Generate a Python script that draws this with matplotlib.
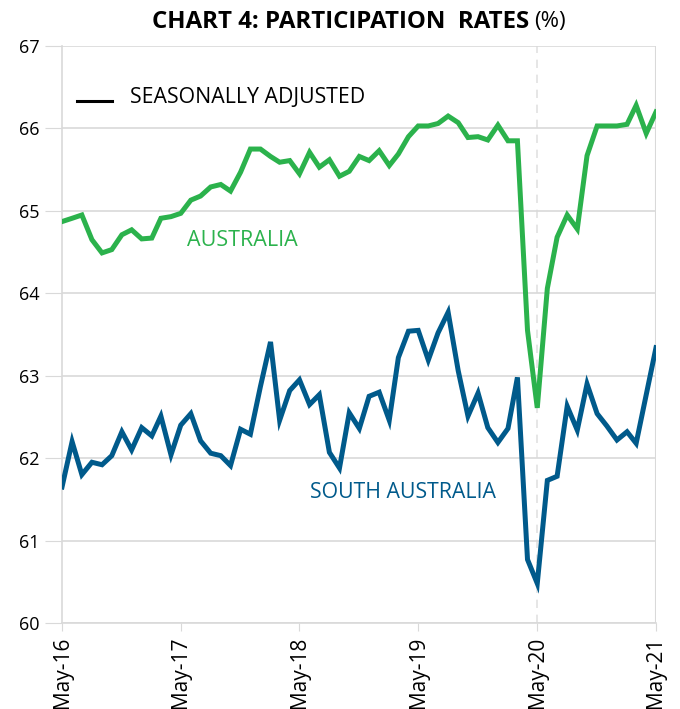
import matplotlib

matplotlib.use("Agg")
import matplotlib.pyplot as plt
import pandas as pd

# monthly, May-16 to May-21
months = pd.date_range("2016-05-01", periods=61, freq="MS")

australia = [
    64.87, 64.91, 64.95, 64.65, 64.49, 64.53, 64.71, 64.77, 64.66, 64.67,
    64.91, 64.93, 64.97, 65.13, 65.18, 65.29, 65.32, 65.24, 65.47, 65.75,
    65.75, 65.66, 65.59, 65.61, 65.45, 65.71, 65.53, 65.62, 65.42, 65.48,
    65.66, 65.61, 65.73, 65.55, 65.69, 65.90, 66.03, 66.03, 66.06, 66.15,
    66.07, 65.89, 65.90, 65.86, 66.04, 65.85, 65.85, 63.55, 62.61, 64.06,
    64.68, 64.95, 64.78, 65.67, 66.03, 66.03, 66.03, 66.05, 66.28, 65.94,
    66.20,
]
south_australia = [
    61.65, 62.20, 61.80, 61.95, 61.92, 62.03, 62.32, 62.10, 62.37, 62.27,
    62.51, 62.04, 62.40, 62.54, 62.21, 62.06, 62.03, 61.91, 62.35, 62.29,
    62.87, 63.41, 62.46, 62.82, 62.95, 62.65, 62.77, 62.07, 61.88, 62.55,
    62.36, 62.75, 62.80, 62.46, 63.22, 63.54, 63.55, 63.19, 63.52, 63.77,
    63.06, 62.51, 62.79, 62.37, 62.19, 62.36, 62.98, 60.77, 60.48, 61.73,
    61.78, 62.63, 62.34, 62.90, 62.54, 62.39, 62.22, 62.32, 62.18, 62.77,
    63.34,
]
tick_dates = pd.date_range("2016-05-01", periods=6, freq="12MS")
tick_labels = ["May-16", "May-17", "May-18", "May-19", "May-20", "May-21"]

GREEN = "#2bb24c"
BLUE = "#005a8b"
GRID = "#d9d9d9"

plt.rcParams["font.family"] = ["Open Sans", "DejaVu Sans"]

fig = plt.figure(figsize=(6.8, 7.09), dpi=100)
ax = fig.add_axes([0.0912, 0.1213, 0.8735, 0.8138])

ax.plot(months, australia, color=GREEN, lw=3.6, solid_joinstyle="miter", zorder=3)
ax.plot(months, south_australia, color=BLUE, lw=3.6, solid_joinstyle="miter", zorder=3)

ax.set_ylim(60, 67)
ax.set_yticks(range(60, 68))
ax.set_xlim(months[0], months[-1])
ax.set_xticks(tick_dates)
ax.set_xticklabels(tick_labels, rotation=90)
ax.grid(axis="y", color=GRID, lw=1.2)
ax.axvline(tick_dates[4], color="#e2e2e2", lw=1.2, ls=(0, (5, 4)), zorder=1)
ax.axvline(tick_dates[5], color=GRID, lw=1.5, zorder=1)

for side in ["top", "right"]:
    ax.spines[side].set_visible(False)
for side in ["left", "bottom"]:
    ax.spines[side].set_color(GRID)
    ax.spines[side].set_linewidth(1.2)
ax.tick_params(axis="y", length=12, color=GRID, labelsize=13, pad=4)
ax.tick_params(axis="x", length=6, color=GRID, labelsize=15, pad=4)

# series labels and legend
ax.text(months[12] + pd.Timedelta(days=18), 64.64, "AUSTRALIA", color=GREEN,
        fontsize=15.5, va="center")
ax.text(months[25], 61.58, "SOUTH AUSTRALIA", color=BLUE, fontsize=15.3, va="center")
ax.plot([months[1] + pd.Timedelta(days=15), months[5]], [66.33, 66.33], color="black", lw=2.2)
ax.text(months[6] + pd.Timedelta(days=25), 66.38, "SEASONALLY ADJUSTED", color="black",
        fontsize=15.3, va="center")

fig.text(0.778, 0.969, "CHART 4: PARTICIPATION  RATES", fontsize=17.3,
         fontweight="bold", ha="right", va="center")
fig.text(0.786, 0.969, "(%)", fontsize=16, ha="left", va="center")

fig.savefig("out.png", dpi=100)
